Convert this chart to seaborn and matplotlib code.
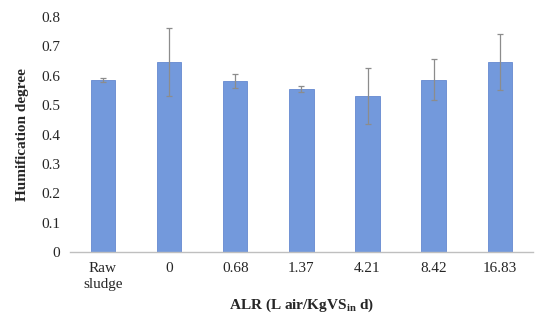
import matplotlib
matplotlib.use("Agg")
import matplotlib.pyplot as plt
import seaborn as sns
import pandas as pd

categories = ["Raw\nsludge", "0", "0.68", "1.37", "4.21", "8.42", "16.83"]
values = [0.586, 0.647, 0.582, 0.556, 0.531, 0.587, 0.648]
errors = [0.007, 0.117, 0.024, 0.010, 0.095, 0.070, 0.095]

df = pd.DataFrame({"alr": categories, "hd": values})

sns.set_style("white")
plt.rcParams["font.family"] = ["Liberation Serif", "DejaVu Serif"]
plt.rcParams["mathtext.fontset"] = "custom"
plt.rcParams["mathtext.rm"] = "Liberation Serif"
plt.rcParams["mathtext.bf"] = "Liberation Serif:bold"

fig = plt.figure(figsize=(5.5, 3.23), dpi=100)
ax = fig.add_axes([0.127, 0.22, 0.842, 0.727])

sns.barplot(data=df, x="alr", y="hd", color="#7399dc", width=0.37,
            edgecolor="#6589d0", linewidth=0.6, saturation=1, ax=ax)
ax.errorbar(range(len(categories)), values, yerr=errors, fmt="none",
            ecolor="#8c8c8c", elinewidth=0.9, capsize=2.5, capthick=0.9)

ax.set_ylim(0, 0.8)
ax.set_yticks([i / 10 for i in range(9)])
ax.set_yticklabels(["0"] + [f"{i/10:.1f}" for i in range(1, 9)])
ax.set_xlim(-0.5, len(categories) - 0.5)
ax.tick_params(axis="both", length=0, labelsize=11, pad=7)
for lbl in ax.get_xticklabels():
    lbl.set_linespacing(1.3)

for s in ["top", "right", "left"]:
    ax.spines[s].set_visible(False)
ax.spines["bottom"].set_color("#bfbfbf")
ax.spines["bottom"].set_linewidth(1)

ax.set_ylabel("Humification degree", fontsize=11, fontweight="bold", labelpad=9)
ax.set_xlabel("ALR (L air/KgVS$_{\\mathbf{in}}$ d)", fontsize=11, fontweight="bold", labelpad=4)

fig.savefig("out.png", dpi=100)
